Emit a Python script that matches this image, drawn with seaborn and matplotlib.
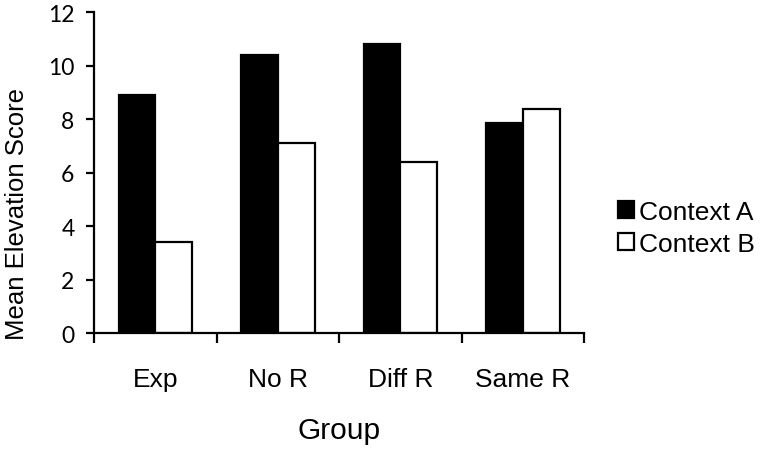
import numpy as np
import pandas as pd
import matplotlib
matplotlib.use('Agg')
import matplotlib.pyplot as plt
from matplotlib.patches import Patch
import seaborn as sns

# valorile
groups = ['Exp', 'No R', 'Diff R', 'Same R']
context_a = [8.9, 10.4, 10.8, 7.85]
context_b = [3.4, 7.13, 6.42, 8.4]
series_names = ['Context A', 'Context B']
y_ticks = [0, 2, 4, 6, 8, 10, 12]

df = pd.DataFrame({
    'Group': groups * 2,
    'Context': [series_names[0]] * 4 + [series_names[1]] * 4,
    'Score': context_a + context_b,
})

sns.set_style('white')
plt.rcParams['font.family'] = ['Liberation Sans', 'DejaVu Sans']
plt.rcParams['text.color'] = 'black'
plt.rcParams['xtick.color'] = 'black'
plt.rcParams['ytick.color'] = 'black'
plt.rcParams['axes.labelcolor'] = 'black'

fig = plt.figure(figsize=(7.64, 4.52), dpi=100)
ax = fig.add_axes([94 / 764, 1 - 334.3 / 452, 490 / 764, 321 / 452])

sns.barplot(data=df, x='Group', y='Score', hue='Context', order=groups,
            hue_order=series_names, palette=['black', 'white'],
            edgecolor='black', linewidth=1.6, width=0.6, saturation=1,
            ax=ax, legend=False)

ax.set_xlim(-0.5, 3.5)
ax.set_ylim(0, 12)
ax.set_yticks(y_ticks)
ax.set_yticklabels([str(t) for t in y_ticks], family='Lato', fontsize=16.5)
ax.tick_params(axis='y', direction='out', length=6, width=1.6, pad=8,
               left=True, color='black', labelcolor='black')

# etichetele pe centru, liniutele intre categorii
ax.set_xticks(range(len(groups)))
ax.set_xticklabels(groups, fontsize=19)
ax.tick_params(axis='x', which='major', length=0, pad=24, labelcolor='black')
ax.set_xticks(np.arange(-0.5, 4, 1), minor=True)
ax.tick_params(axis='x', which='minor', direction='out', length=7,
               width=1.6, bottom=True, color='black')

for side in ['top', 'right']:
    ax.spines[side].set_visible(False)
for side in ['left', 'bottom']:
    ax.spines[side].set_color('black')
    ax.spines[side].set_linewidth(1.6)

ax.set_xlabel('')
ax.set_ylabel('')
fig.text(17.5 / 764, 1 - 214.5 / 452, 'Mean Elevation Score', rotation=90,
         ha='center', va='center', fontsize=18.5, color='black')
fig.text(339 / 764, 1 - 431 / 452, 'Group', ha='center', va='center',
         fontsize=21.5, color='black')

handles = [Patch(facecolor='black', edgecolor='black', linewidth=1.6),
           Patch(facecolor='white', edgecolor='black', linewidth=1.6)]
fig.legend(handles, series_names, loc='center left',
           bbox_to_anchor=(618 / 764, 1 - 229 / 452), frameon=False,
           fontsize=19, handlelength=0.6, handleheight=0.6,
           handletextpad=0.2, labelspacing=0.3, borderpad=0,
           borderaxespad=0, labelcolor='black')

fig.savefig('out.png', dpi=100, facecolor='white')
